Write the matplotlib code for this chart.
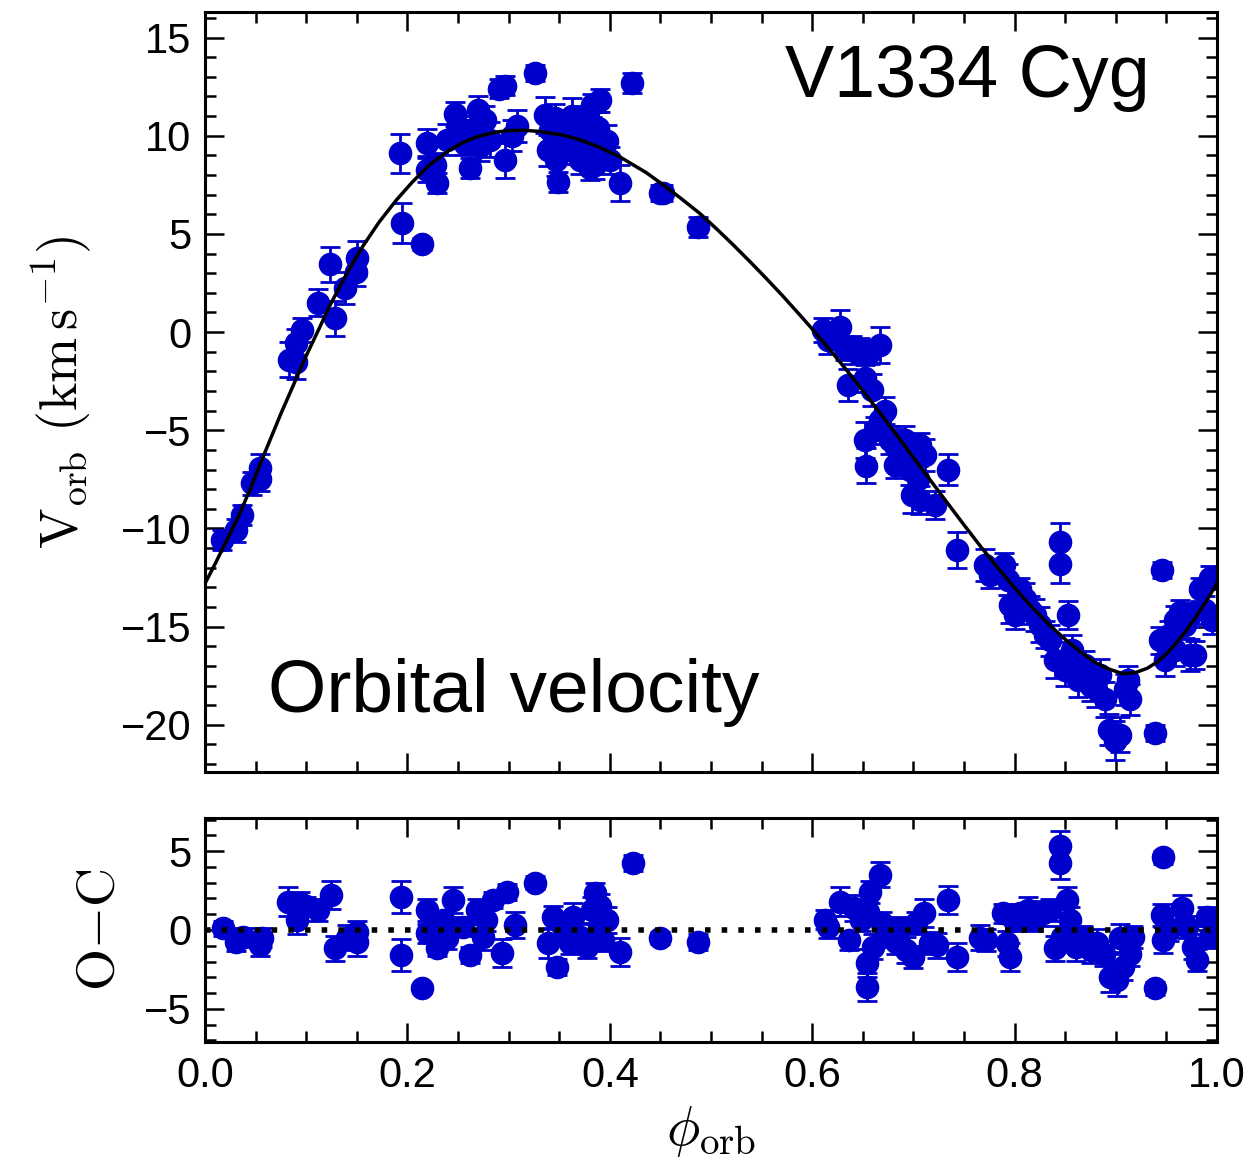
import matplotlib.pyplot as plt
from matplotlib.ticker import MultipleLocator

# orbital velocity measurements (phase, km/s, error)
phase = [0.017, 0.031, 0.037, 0.046, 0.054, 0.054, 0.083, 0.090, 0.090, 0.096,
         0.112, 0.123, 0.128, 0.138, 0.149, 0.150, 0.193, 0.195, 0.214, 0.219,
         0.219, 0.229, 0.227, 0.239, 0.247, 0.250, 0.257, 0.262, 0.262, 0.270,
         0.272, 0.277, 0.282, 0.290, 0.296, 0.296, 0.303, 0.308, 0.326, 0.336,
         0.339, 0.341, 0.346, 0.347, 0.349, 0.353, 0.356, 0.361, 0.363, 0.369,
         0.371, 0.375, 0.378, 0.380, 0.382, 0.385, 0.388, 0.390, 0.393, 0.397,
         0.400, 0.410, 0.422, 0.450, 0.453, 0.487,
         0.611, 0.616, 0.627, 0.632, 0.635, 0.639, 0.647, 0.652, 0.653, 0.652,
         0.657, 0.659, 0.662, 0.667, 0.667, 0.672, 0.677, 0.682, 0.682, 0.687,
         0.692, 0.697, 0.699, 0.705, 0.707, 0.707, 0.711, 0.721, 0.734, 0.743,
         0.771, 0.776, 0.790, 0.793, 0.795, 0.800, 0.805, 0.810, 0.815, 0.820,
         0.825, 0.830, 0.835, 0.840, 0.845, 0.845, 0.850, 0.853, 0.857, 0.863,
         0.870, 0.875, 0.880, 0.884, 0.889, 0.893, 0.899, 0.904, 0.909, 0.912,
         0.914, 0.939, 0.944, 0.946, 0.949, 0.953, 0.958, 0.958, 0.963, 0.968,
         0.973, 0.973, 0.978, 0.983, 0.988, 0.993, 0.995]
v_orb = [-10.6, -10.1, -9.3, -7.7, -6.9, -7.5, -1.4, -1.5, -0.55, 0.1,
         1.5, 3.45, 0.7, 2.25, 3.05, 3.75, 9.1, 5.55, 4.5, 9.65,
         8.25, 7.6, 8.5, 9.8, 11.1, 10.5, 9.6, 10.3, 8.35, 11.3,
         9.5, 10.8, 9.8, 12.4, 12.55, 8.75, 10.0, 10.5, 13.2, 11.05,
         9.25, 10.3, 10.9, 8.75, 7.65, 9.8, 10.5, 9.25, 11.0, 10.0,
         8.75, 10.8, 9.5, 8.35, 11.55, 8.5, 10.4, 11.8, 9.25, 9.75,
         8.75, 7.6, 12.7, 7.1, 7.1, 5.35,
         0.1, -0.4, 0.25, -0.8, -2.7, -0.9, -0.9, -5.5, -6.8, -2.35,
         -1.0, -2.95, -5.0, -0.65, -4.5, -4.0, -5.5, -5.75, -6.75, -6.5,
         -5.5, -7.0, -8.3, -7.5, -5.75, -8.55, -6.25, -8.8, -7.0, -11.1,
         -11.85, -12.35, -11.85, -12.6, -13.9, -14.4, -13.1, -13.6, -14.15, -14.4,
         -14.9, -15.4, -15.7, -16.7, -10.7, -11.8, -17.2, -14.4, -16.2, -17.7,
         -16.95, -18.0, -18.2, -17.45, -18.7, -20.25, -20.8, -20.5, -18.2, -17.7,
         -18.7, -20.4, -15.7, -12.1, -16.7, -15.4, -16.2, -14.65, -14.25, -14.9,
         -16.45, -14.4, -16.45, -13.1, -14.15, -12.5, -14.65]
v_err = [0.5, 0.6, 0.5, 0.6, 0.7, 0.6, 0.9, 0.9, 0.7, 0.6,
         0.7, 0.9, 0.9, 0.8, 0.7, 0.9, 1.0, 1.0, 0.3, 0.7,
         0.6, 0.5, 0.6, 0.8, 0.6, 0.7, 0.6, 0.7, 0.5, 0.7,
         0.8, 0.7, 0.9, 0.5, 0.5, 0.9, 0.8, 0.8, 0.4, 0.9,
         0.8, 0.8, 0.7, 0.8, 0.5, 0.7, 0.8, 0.7, 0.9, 0.8,
         0.7, 0.7, 0.8, 0.6, 0.6, 0.7, 0.8, 0.6, 0.7, 0.8,
         0.7, 0.9, 0.5, 0.4, 0.4, 0.5,
         0.6, 0.7, 0.9, 0.6, 0.8, 0.7, 0.6, 0.9, 0.9, 0.7,
         0.6, 0.8, 0.7, 0.9, 0.8, 0.7, 0.7, 0.8, 0.7, 0.8,
         0.7, 0.8, 0.9, 0.7, 0.6, 0.7, 0.8, 0.7, 0.8, 0.9,
         0.8, 0.7, 0.6, 0.8, 0.9, 0.7, 0.6, 0.8, 0.7, 0.8,
         0.9, 0.7, 0.8, 0.9, 1.0, 1.0, 0.8, 0.7, 0.8, 0.9,
         0.7, 0.8, 0.9, 0.8, 0.9, 0.8, 1.0, 0.9, 0.8, 0.7,
         0.8, 0.4, 0.7, 0.4, 0.8, 0.7, 0.8, 0.7, 0.6, 0.7,
         0.8, 0.6, 0.7, 0.6, 0.7, 0.6, 0.7]

# orbital solution
model_phase = [0.000, 0.010, 0.020, 0.033, 0.045, 0.059, 0.075, 0.089, 0.100, 0.112,
               0.124, 0.140, 0.156, 0.172, 0.189, 0.205, 0.222, 0.240, 0.255, 0.270,
               0.288, 0.300, 0.315, 0.330, 0.354, 0.371, 0.390, 0.410, 0.436, 0.450,
               0.469, 0.489, 0.505, 0.522, 0.540, 0.555, 0.570, 0.588, 0.601, 0.621,
               0.634, 0.650, 0.667, 0.685, 0.700, 0.717, 0.733, 0.750, 0.766, 0.783,
               0.799, 0.815, 0.832, 0.848, 0.865, 0.878, 0.891, 0.907, 0.920, 0.931,
               0.940, 0.950, 0.960, 0.970, 0.980, 0.990, 1.000]
model_v = [-12.8, -11.8, -10.75, -9.4, -7.95, -6.15, -4.15, -2.5, -1.2, 0.1,
           1.42, 2.98, 4.38, 5.6, 6.72, 7.65, 8.52, 9.22, 9.66, 9.97,
           10.19, 10.26, 10.28, 10.22, 10.03, 9.78, 9.41, 8.92, 8.12, 7.6,
           6.86, 6.04, 5.28, 4.44, 3.51, 2.71, 1.89, 0.86, 0.1, -1.12,
           -1.94, -2.98, -4.12, -5.35, -6.39, -7.56, -8.66, -9.82, -10.89, -11.98,
           -12.96, -13.89, -14.79, -15.56, -16.28, -16.78, -17.12, -17.4, -17.33, -17.12,
           -16.83, -16.39, -15.82, -15.17, -14.44, -13.65, -12.8]

# observed minus calculated
phase_oc = [0.018, 0.031, 0.038, 0.054, 0.056, 0.082, 0.091, 0.094, 0.100, 0.112,
            0.124, 0.128, 0.140, 0.150, 0.150, 0.194, 0.194, 0.214, 0.219, 0.219,
            0.229, 0.235, 0.245, 0.239, 0.255, 0.262, 0.269, 0.275, 0.278, 0.285,
            0.293, 0.298, 0.306, 0.326, 0.339, 0.348, 0.344, 0.354, 0.361, 0.364,
            0.371, 0.377, 0.382, 0.385, 0.389, 0.390, 0.393, 0.397, 0.410, 0.423,
            0.450, 0.487,
            0.613, 0.616, 0.627, 0.636, 0.641, 0.648, 0.654, 0.654, 0.657, 0.667,
            0.655, 0.660, 0.669, 0.674, 0.683, 0.687, 0.693, 0.700, 0.703, 0.710,
            0.716, 0.723, 0.734, 0.743, 0.766, 0.772, 0.789, 0.792, 0.795, 0.799,
            0.805, 0.813, 0.818, 0.828, 0.835, 0.840, 0.845, 0.845, 0.852, 0.847,
            0.855, 0.861, 0.868, 0.875, 0.881, 0.888, 0.894, 0.901, 0.904, 0.907,
            0.914, 0.917, 0.939, 0.946, 0.947, 0.947, 0.953, 0.965, 0.970, 0.976,
            0.980, 0.990, 0.993]
oc = [0.1, -0.75, -0.45, -0.95, -0.5, 1.8, 0.63, 1.7, 1.5, 1.27,
      2.2, -1.15, -0.5, -0.1, -0.75, 2.1, -1.6, -3.7, 1.27, -0.2,
      -1.15, 0.63, 1.9, -0.5, 0.2, -1.6, 1.27, -0.45, 0.64, 1.9,
      -1.46, 2.4, 0.32, 3.0, -0.85, -2.35, 0.83, 0.2, -0.85, 0.83,
      -0.45, -1.06, 1.27, 2.35, 0.2, 1.5, -0.64, 0.64, -1.4, 4.25,
      -0.5, -0.75,
      0.64, 0.2, 1.8, -0.64, 1.4, 0.64, -2.1, -3.6, 2.4, 3.5,
      1.15, -1.06, 0.45, -0.4, -0.75, 0.13, -1.27, -1.7, 0.45, 1.06,
      -0.85, -0.96, 1.9, -1.7, -0.5, -0.64, 1.06, -0.85, -1.7, 0.64,
      1.06, 1.27, 0.64, 1.06, 1.27, -1.15, 5.3, 4.25, 1.9, -0.45,
      0.64, -1.06, -0.45, -1.27, -0.85, -1.5, -3.0, -3.2, -0.5, -2.35,
      -1.5, -0.45, -3.7, 0.96, 4.6, -0.64, 0.0, 1.4, 0.2, -1.06,
      -1.9, 0.83, -0.45]
oc_err = [0.5, 0.6, 0.6, 0.7, 0.6, 0.9, 0.9, 0.7, 0.6, 0.7,
          0.9, 0.8, 0.8, 0.7, 0.9, 1.0, 1.0, 0.3, 0.7, 0.6,
          0.5, 0.6, 0.8, 0.7, 0.6, 0.5, 0.7, 0.8, 0.7, 0.5,
          0.9, 0.5, 0.8, 0.4, 0.9, 0.5, 0.7, 0.8, 0.7, 0.9,
          0.8, 0.7, 0.8, 0.6, 0.7, 0.8, 0.7, 0.8, 0.9, 0.5,
          0.4, 0.5,
          0.6, 0.7, 0.9, 0.6, 0.8, 0.7, 0.9, 0.9, 0.7, 0.8,
          0.7, 0.8, 0.7, 0.7, 0.8, 0.7, 0.8, 0.7, 0.7, 0.9,
          0.7, 0.8, 0.9, 0.9, 0.8, 0.7, 0.6, 0.8, 0.9, 0.7,
          0.6, 0.8, 0.7, 0.8, 0.7, 0.8, 1.0, 1.0, 0.8, 0.7,
          0.8, 0.9, 0.7, 0.8, 0.9, 0.8, 0.9, 1.0, 0.9, 0.8,
          0.8, 0.7, 0.4, 0.7, 0.4, 0.8, 0.7, 0.8, 0.7, 0.8,
          0.7, 0.6, 0.7]

blue = '#0000cc'
plt.rcParams['mathtext.fontset'] = 'cm'
plt.rcParams['font.family'] = ['Liberation Sans', 'DejaVu Sans']

fig = plt.figure(figsize=(12.54, 11.67), dpi=100)
ax1 = fig.add_axes([0.1635, 0.3385, 0.807, 0.6512])
ax2 = fig.add_axes([0.1635, 0.1071, 0.807, 0.192])

err_kw = dict(fmt='o', color=blue, ms=16, elinewidth=2, capsize=7.5, capthick=2)
ax1.errorbar(phase, v_orb, yerr=v_err, zorder=2, **err_kw)
ax1.plot(model_phase, model_v, color='black', lw=2.5, zorder=3)

ax2.errorbar(phase_oc, oc, yerr=oc_err, zorder=2, **err_kw)
ax2.axhline(0, color='black', lw=4, ls=(0, (1, 2)), zorder=3)

ax1.set_xlim(0, 1)
ax1.set_ylim(-22.4, 16.3)
ax2.set_xlim(0, 1)
ax2.set_ylim(-7.1, 7.1)

for ax in (ax1, ax2):
    ax.xaxis.set_major_locator(MultipleLocator(0.2))
    ax.xaxis.set_minor_locator(MultipleLocator(0.05))
    ax.yaxis.set_major_locator(MultipleLocator(5))
    ax.yaxis.set_minor_locator(MultipleLocator(1))
    ax.tick_params(which='both', direction='in', top=True, right=True, width=1.8)
    ax.tick_params(which='major', length=14, labelsize=30, pad=10)
    ax.tick_params(which='minor', length=8)
    for sp in ax.spines.values():
        sp.set_linewidth(2.2)

ax1.tick_params(labelbottom=False)

ax1.set_ylabel(r'$\mathrm{V_{orb}\ (km\,s^{-1})}$', fontsize=39)
ax1.yaxis.set_label_coords(-0.11, 0.5)
ax2.set_ylabel(r'$\mathrm{O{-}C}$', fontsize=39)
ax2.yaxis.set_label_coords(-0.079, 0.5)
ax2.set_xlabel(r'$\phi_{\rm orb}$', fontsize=40, labelpad=6)

ax1.text(0.934, 0.888, 'V1334 Cyg', transform=ax1.transAxes, ha='right',
         va='baseline', fontsize=53)
ax1.text(0.062, 0.079, 'Orbital velocity', transform=ax1.transAxes, ha='left',
         va='baseline', fontsize=54)

fig.savefig('out.png', dpi=100)
